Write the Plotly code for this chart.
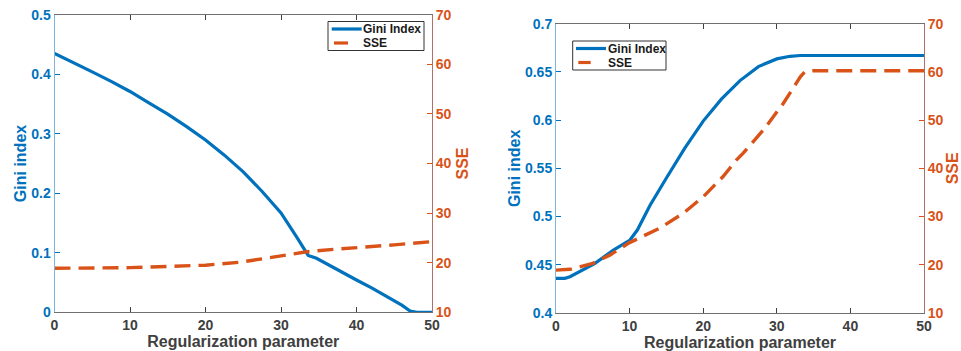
import plotly.graph_objects as go

# ---- Left panel data ----
left_x = [0, 2.5, 5, 7.5, 10, 12.5, 15, 17.5, 20, 22.5, 25, 27.5, 30, 32, 33.6, 34.7, 37, 40, 42, 44.4, 46,
          47.1, 48, 50]
left_gini = [0.435, 0.42, 0.404, 0.388, 0.371, 0.352, 0.333, 0.312, 0.2895, 0.264, 0.236, 0.203, 0.167, 0.128,
             0.0955, 0.0907, 0.0745, 0.0543, 0.041, 0.0235, 0.012, 0.002, 0.0, 0.0]
left_sse_x = [0, 10, 20, 24.6, 26.3, 30, 33.4, 37, 42.2, 45, 49.7, 50]
left_sse = [18.87, 19.0, 19.5, 20.1, 20.5, 21.3, 22.2, 22.7, 23.2, 23.6, 24.2, 24.2]

# ---- Right panel data ----
right_x = [0, 1.2, 1.9, 5.3, 7.8, 10.05, 11.05, 12.8, 15, 17.5, 20, 22.5, 25, 27.5, 30, 31.8, 33.2, 35, 50]
right_gini = [0.436, 0.436, 0.4376, 0.4515, 0.4653, 0.4757, 0.486, 0.512, 0.540, 0.571, 0.599, 0.622, 0.641,
              0.6555, 0.6635, 0.6662, 0.667, 0.667, 0.667]
right_sse_x = [0, 1.9, 5, 7.3, 10, 14.1, 17.3, 20, 22.7, 24.5, 25.4, 28.2, 30.9, 33.2, 33.8, 35, 50]
right_sse = [18.9, 19.06, 20.3, 22.0, 24.6, 27.6, 30.7, 34.1, 38.3, 41.7, 43.1, 48.0, 53.5, 59.0, 60.0,
             60.25, 60.25]

x_ticks = [0, 10, 20, 30, 40, 50]
left_gini_ticks = [0, 0.1, 0.2, 0.3, 0.4, 0.5]
left_gini_labels = ["0", "0.1", "0.2", "0.3", "0.4", "0.5"]
right_gini_ticks = [0.4, 0.45, 0.5, 0.55, 0.6, 0.65, 0.7]
sse_ticks = [10, 20, 30, 40, 50, 60, 70]
legend_labels = ["Gini Index", "SSE"]

BLUE = "#0072BD"
ORANGE = "#D95319"
GRAY = "#404040"
FONT = "Liberation Sans"
W, H = 961, 351

fig = go.Figure()

fig.add_trace(go.Scatter(x=left_x, y=left_gini, mode="lines", name=legend_labels[0],
                         line=dict(color=BLUE, width=3.2), xaxis="x", yaxis="y"))
fig.add_trace(go.Scatter(x=left_sse_x, y=left_sse, mode="lines", name=legend_labels[1],
                         line=dict(color=ORANGE, width=3.4, dash="16px,8px"), xaxis="x", yaxis="y2"))
fig.add_trace(go.Scatter(x=right_x, y=right_gini, mode="lines", name=legend_labels[0],
                         line=dict(color=BLUE, width=3.2), xaxis="x2", yaxis="y3"))
fig.add_trace(go.Scatter(x=right_sse_x, y=right_sse, mode="lines", name=legend_labels[1],
                         line=dict(color=ORANGE, width=3.4, dash="16px,8px"), xaxis="x2", yaxis="y4"))

tickfont = lambda c: dict(family=FONT, size=14, color=c, weight="bold")
titlefont = lambda c: dict(family=FONT, size=16, color=c, weight="bold")

xcommon = dict(range=[0, 50], tickvals=x_ticks, ticks="inside", ticklen=5, tickcolor=GRAY,
               showline=True, linecolor="#707070", linewidth=1, mirror="ticks", showgrid=False,
               zeroline=False, tickfont=tickfont(GRAY), automargin=False,
               title=dict(text="Regularization parameter", font=titlefont(GRAY), standoff=2))


def ycommon(color, linecolor, title, standoff):
    return dict(ticks="inside", ticklen=5, tickcolor=color, showline=True, linecolor=linecolor,
                linewidth=1, showgrid=False, zeroline=False, tickfont=tickfont(color), automargin=False,
                title=dict(text=title, font=titlefont(color), standoff=standoff))


fig.update_layout(
    width=W, height=H, margin=dict(l=0, r=0, t=0, b=0),
    paper_bgcolor="white", plot_bgcolor="white", showlegend=False,
    xaxis=dict(domain=[54.5 / W, 432 / W], anchor="y", **xcommon),
    yaxis=dict(domain=[1 - 312.3 / H, 1 - 14.7 / H], anchor="x", range=[0, 0.5], tickvals=left_gini_ticks,
               ticktext=left_gini_labels, **ycommon(BLUE, "#7fb5dc", "Gini index", 0)),
    yaxis2=dict(overlaying="y", side="right", anchor="x", range=[10, 70], tickvals=sse_ticks,
                **ycommon(ORANGE, "#b0706a", "SSE", 6)),
    xaxis2=dict(domain=[556 / W, 924 / W], anchor="y3", **xcommon),
    yaxis3=dict(domain=[1 - 313 / H, 1 - 23.7 / H], anchor="x2", range=[0.4, 0.7], tickvals=right_gini_ticks,
                **ycommon(BLUE, "#7fb5dc", "Gini index", 0)),
    yaxis4=dict(overlaying="y3", side="right", anchor="x2", range=[10, 70], tickvals=sse_ticks,
                **ycommon(ORANGE, "#b0706a", "SSE", 6)),
)

# Manual MATLAB-style legends (pixel positions -> paper coordinates)
def px(x):
    return x / W


def py(y):
    return 1 - y / H


legend_boxes = [
    dict(box=(328, 21.5, 424, 50.5), blue=(331.7, 361.7, 29), orange=(334, 348, 43), text_x=362.3,
         rows=(29, 43)),
    dict(box=(572.7, 41, 666, 70), blue=(576, 606, 48.5), orange=(578.3, 590.7, 62.5), text_x=606.7,
         rows=(48.5, 62.5)),
]
for lb in legend_boxes:
    x0, y0, x1, y1 = lb["box"]
    fig.add_shape(type="rect", xref="paper", yref="paper", x0=px(x0), x1=px(x1), y0=py(y1), y1=py(y0),
                  line=dict(color="#333333", width=1), fillcolor="white", layer="above")
    bx0, bx1, by = lb["blue"]
    fig.add_shape(type="line", xref="paper", yref="paper", x0=px(bx0), x1=px(bx1), y0=py(by), y1=py(by),
                  line=dict(color=BLUE, width=3.2), layer="above")
    ox0, ox1, oy = lb["orange"]
    fig.add_shape(type="line", xref="paper", yref="paper", x0=px(ox0), x1=px(ox1), y0=py(oy), y1=py(oy),
                  line=dict(color=ORANGE, width=3.2), layer="above")
    for label, ry in zip(legend_labels, lb["rows"]):
        fig.add_annotation(x=px(lb["text_x"]), y=py(ry), xref="paper", yref="paper", text=label,
                           showarrow=False, xanchor="left", yanchor="middle", borderpad=0,
                           font=dict(family=FONT, size=12, color="#1a1a1a", weight="bold"))

fig.write_html("out.html")
